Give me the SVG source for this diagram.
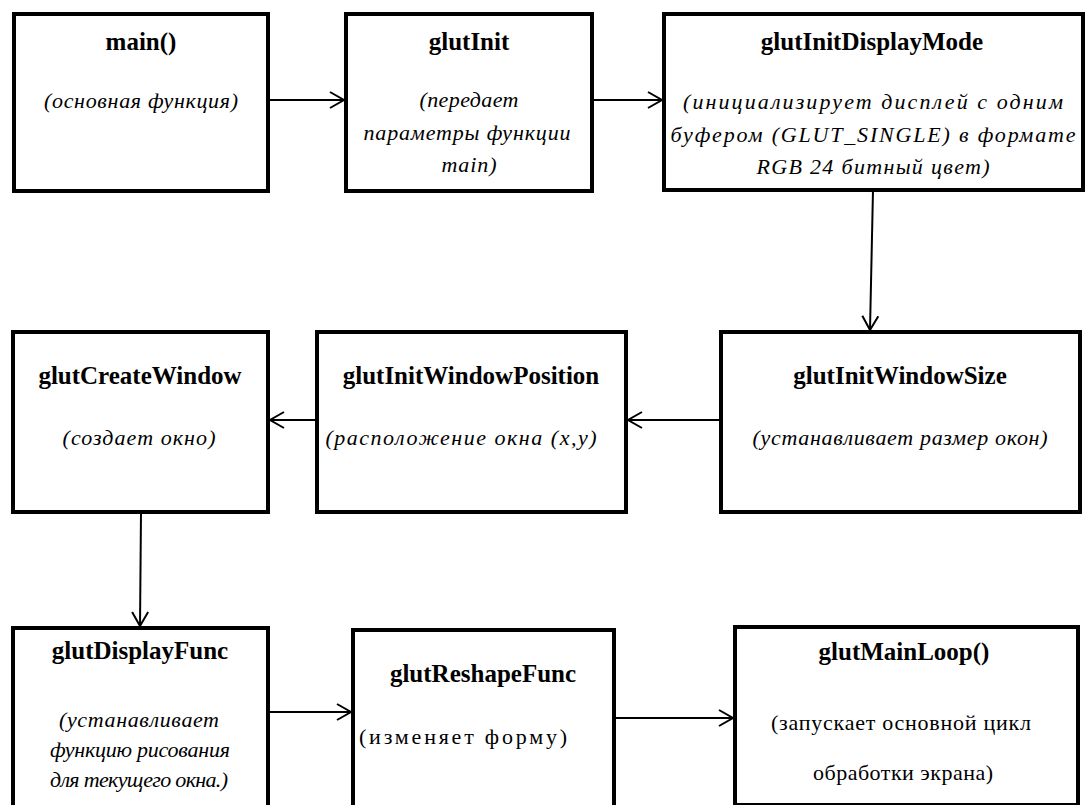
<svg xmlns="http://www.w3.org/2000/svg" width="1088" height="805" viewBox="0 0 1088 805" font-family="'Liberation Serif', 'Times New Roman', serif">
<defs>
<style>
.box{fill:#fff;stroke:#000;stroke-width:4}
text{font-family:'Liberation Serif','Times New Roman',serif;text-anchor:middle;fill:#000}
.t{font-size:25px;font-weight:bold}
.s{font-size:22px;font-style:italic}
.r{font-size:22px}
.c{stroke:#000;stroke-width:2;fill:none}
</style>
<marker id="arr" markerUnits="userSpaceOnUse" markerWidth="20" markerHeight="20" viewBox="-16 -10 18 20" refX="0" refY="0" orient="auto">
<path d="M-14,-8 L0,0 L-14,8" fill="none" stroke="#000" stroke-width="2"/>
</marker>
</defs>
<rect width="1088" height="805" fill="#fff"/>
<g id="connectors">
<line class="c" x1="268" y1="100" x2="344" y2="100" marker-end="url(#arr)"/>
<line class="c" x1="592" y1="100" x2="662" y2="100" marker-end="url(#arr)"/>
<line class="c" x1="873" y1="190" x2="870" y2="330" marker-end="url(#arr)"/>
<line class="c" x1="721" y1="420" x2="628" y2="420" marker-end="url(#arr)"/>
<line class="c" x1="317" y1="420" x2="270" y2="420" marker-end="url(#arr)"/>
<line class="c" x1="141" y1="512" x2="140" y2="626" marker-end="url(#arr)"/>
<line class="c" x1="268" y1="712" x2="351" y2="712" marker-end="url(#arr)"/>
<line class="c" x1="614" y1="718" x2="733" y2="718" marker-end="url(#arr)"/>
</g>
<g id="main">
<rect class="box" x="14" y="14" width="254" height="177"/>
<text class="t" x="141" y="50">main()</text>
<text class="s" x="141" y="108" textLength="194" lengthAdjust="spacing">(основная функция)</text>
</g>
<g id="glutInit">
<rect class="box" x="346" y="14" width="246" height="177"/>
<text class="t" x="469" y="50">glutInit</text>
<text class="s" x="469" y="107" textLength="99" lengthAdjust="spacing">(передает</text>
<text class="s" x="467" y="140" textLength="207" lengthAdjust="spacing">параметры функции</text>
<text class="s" x="469" y="172" textLength="55" lengthAdjust="spacing">main)</text>
</g>
<g id="glutInitDisplayMode">
<rect class="box" x="664" y="14" width="419" height="176"/>
<text class="t" x="872" y="50">glutInitDisplayMode</text>
<text class="s" x="873" y="109" textLength="380" lengthAdjust="spacing">(инициализирует дисплей с одним</text>
<text class="s" x="873" y="142" textLength="405" lengthAdjust="spacing">буфером (GLUT_SINGLE) в формате</text>
<text class="s" x="873" y="174" textLength="233" lengthAdjust="spacing">RGB 24 битный цвет)</text>
</g>
<g id="glutInitWindowSize">
<rect class="box" x="721" y="332" width="359" height="180"/>
<text class="t" x="900" y="384">glutInitWindowSize</text>
<text class="s" x="900" y="445" textLength="295" lengthAdjust="spacing">(устанавливает размер окон)</text>
</g>
<g id="glutInitWindowPosition">
<rect class="box" x="317" y="332" width="309" height="180"/>
<text class="t" x="471" y="384">glutInitWindowPosition</text>
<text class="s" x="461" y="445" textLength="271" lengthAdjust="spacing">(расположение окна (x,y)</text>
</g>
<g id="glutCreateWindow">
<rect class="box" x="13" y="332" width="255" height="180"/>
<text class="t" x="140" y="384">glutCreateWindow</text>
<text class="s" x="139" y="445" textLength="153" lengthAdjust="spacing">(создает окно)</text>
</g>
<g id="glutDisplayFunc">
<rect class="box" x="13" y="628" width="255" height="200"/>
<text class="t" x="140" y="659">glutDisplayFunc</text>
<text class="s" x="139" y="727" textLength="160" lengthAdjust="spacing">(устанавливает</text>
<text class="s" x="140" y="757" textLength="180" lengthAdjust="spacing">функцию рисования</text>
<text class="s" x="139" y="787" textLength="178" lengthAdjust="spacing">для текущего окна.)</text>
</g>
<g id="glutReshapeFunc">
<rect class="box" x="353" y="630" width="261" height="200"/>
<text class="t" x="483" y="682">glutReshapeFunc</text>
<text class="r" x="463" y="744" textLength="208" lengthAdjust="spacing">(изменяет форму)</text>
</g>
<g id="glutMainLoop">
<rect class="box" x="735" y="627" width="343" height="178"/>
<text class="t" x="904" y="660">glutMainLoop()</text>
<text class="r" x="901" y="730" textLength="260" lengthAdjust="spacing">(запускает основной цикл</text>
<text class="r" x="903" y="780" textLength="180" lengthAdjust="spacing">обработки экрана)</text>
</g>
</svg>
